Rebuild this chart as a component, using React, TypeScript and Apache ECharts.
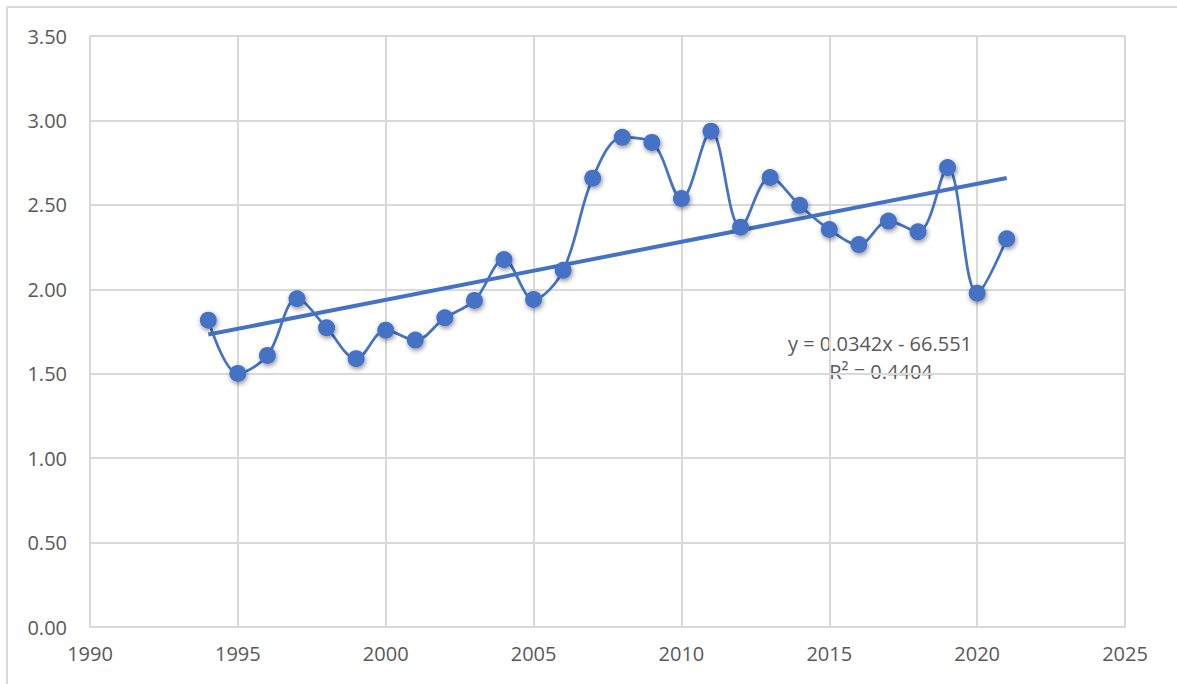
import React, { useEffect, useRef } from "react";
import * as echarts from "echarts";

const years = [
  1994, 1995, 1996, 1997, 1998, 1999, 2000, 2001, 2002, 2003, 2004, 2005, 2006, 2007,
  2008, 2009, 2010, 2011, 2012, 2013, 2014, 2015, 2016, 2017, 2018, 2019, 2020, 2021,
];
const values = [
  1.817, 1.502, 1.608, 1.944, 1.772, 1.589, 1.758, 1.699, 1.831, 1.934, 2.176, 1.94, 2.112, 2.658,
  2.9, 2.87, 2.537, 2.936, 2.368, 2.662, 2.497, 2.354, 2.265, 2.404, 2.34, 2.721, 1.977, 2.299,
];
const equationLines = ["y = 0.0342x - 66.551", "R² = 0.4404"];

function linearFit(xs: number[], ys: number[]) {
  const n = xs.length;
  const mx = xs.reduce((a, b) => a + b, 0) / n;
  const my = ys.reduce((a, b) => a + b, 0) / n;
  let sxy = 0;
  let sxx = 0;
  for (let i = 0; i < n; i++) {
    sxy += (xs[i] - mx) * (ys[i] - my);
    sxx += (xs[i] - mx) * (xs[i] - mx);
  }
  const slope = sxy / sxx;
  return { slope, intercept: my - slope * mx };
}

export default function App() {
  const ref = useRef<HTMLDivElement>(null);
  useEffect(() => {
    if (!ref.current) return;
    const chart = echarts.init(ref.current, null, { renderer: "svg" });
    const fit = linearFit(years, values);
    const x0 = years[0];
    const x1 = years[years.length - 1];
    const trend = [
      [x0, fit.slope * x0 + fit.intercept],
      [x1, fit.slope * x1 + fit.intercept],
    ];
    const font = "'Open Sans', 'Noto Sans', sans-serif";
    const blue = "#4472C4";
    chart.setOption({
      animation: false,
      backgroundColor: "#fff",
      grid: { left: 90, right: 52, top: 36, bottom: 57 },
      xAxis: {
        type: "value",
        min: 1990,
        max: 2025,
        interval: 5,
        axisLine: { show: true, lineStyle: { color: "#d9d9d9", width: 2 } },
        axisTick: { show: false },
        splitLine: { show: true, lineStyle: { color: "#d9d9d9", width: 2 } },
        axisLabel: {
          color: "#595959",
          fontSize: 20,
          fontFamily: font,
          margin: 16,
          formatter: (v: number) => String(v),
        },
      },
      yAxis: {
        type: "value",
        min: 0,
        max: 3.5,
        interval: 0.5,
        axisLine: { show: false },
        axisTick: { show: false },
        splitLine: { show: true, lineStyle: { color: "#d9d9d9", width: 2 } },
        axisLabel: {
          color: "#595959",
          fontSize: 20,
          fontFamily: font,
          margin: 23,
          formatter: (v: number) => v.toFixed(2),
        },
      },
      series: [
        {
          type: "line",
          data: years.map((y, i) => [y, values[i]]),
          smooth: 0.35,
          symbol: "circle",
          symbolSize: 17,
          lineStyle: { color: blue, width: 2.75 },
          itemStyle: {
            color: blue,
            shadowBlur: 5,
            shadowColor: "rgba(0,0,0,0.45)",
            shadowOffsetX: 1,
            shadowOffsetY: 2,
          },
          z: 3,
        },
        {
          type: "line",
          data: trend,
          symbol: "none",
          lineStyle: { color: blue, width: 4 },
          z: 2,
        },
      ],
      graphic: [
        {
          type: "line",
          shape: { x1: 7, y1: 7, x2: 1177, y2: 7 },
          style: { stroke: "#d9d9d9", lineWidth: 2 },
        },
        {
          type: "line",
          shape: { x1: 7, y1: 7, x2: 7, y2: 684 },
          style: { stroke: "#d9d9d9", lineWidth: 2 },
        },
        {
          type: "text",
          x: 880,
          y: 343,
          style: {
            text: equationLines[0],
            fill: "#595959",
            fontSize: 20,
            fontFamily: font,
            textAlign: "center",
            textVerticalAlign: "middle",
          },
        },
        {
          type: "text",
          x: 881,
          y: 371,
          style: {
            text: equationLines[1],
            fill: "#595959",
            fontSize: 20,
            fontFamily: font,
            textAlign: "center",
            textVerticalAlign: "middle",
          },
        },
      ],
    });
    return () => chart.dispose();
  }, []);
  return (
    <div
      ref={ref}
      style={{ position: "absolute", left: 0, top: 0, width: 1177, height: 684 }}
    />
  );
}
